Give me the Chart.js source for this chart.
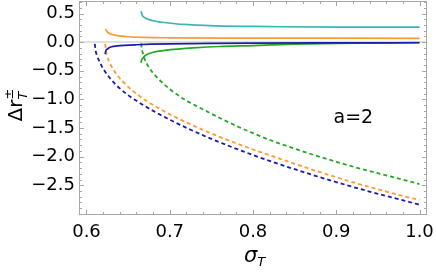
<!DOCTYPE html>
<html>
<head>
<meta charset="utf-8">
<script src="https://cdn.jsdelivr.net/npm/chart.js@4.4.0/dist/chart.umd.min.js"></script>
<style>
  body { margin: 0; background: #fff; }
  #wrap { width: 436px; height: 273px; }
</style>
</head>
<body>
<div id="wrap"><canvas id="chart" width="436" height="273"></canvas></div>
<script>
// solid branches
const cyanSigma = [0.6655, 0.667, 0.670, 0.676, 0.685, 0.696, 0.716, 0.756, 0.80, 0.836, 0.90, 1.0];
const cyanVal   = [0.54, 0.47, 0.43, 0.39, 0.36, 0.34, 0.31, 0.285, 0.275, 0.27, 0.265, 0.262];

const orangeSigma = [0.623, 0.624, 0.626, 0.630, 0.634, 0.640, 0.650, 0.670, 0.700, 0.80, 0.90, 1.0];
const orangeVal   = [0.235, 0.20, 0.165, 0.14, 0.123, 0.11, 0.095, 0.083, 0.077, 0.072, 0.07, 0.068];

const blueSigma = [0.6225, 0.623, 0.625, 0.630, 0.637, 0.646, 0.660, 0.678, 0.70, 0.75, 0.80, 0.90, 1.0];
const blueVal   = [-0.21, -0.16, -0.12, -0.08, -0.065, -0.055, -0.045, -0.035, -0.028, -0.02, -0.016, -0.012, -0.01];

const greenSigma = [0.6655, 0.666, 0.668, 0.672, 0.680, 0.696, 0.710, 0.728, 0.760, 0.80, 0.85, 0.90, 1.0];
const greenVal   = [-0.36, -0.32, -0.27, -0.22, -0.175, -0.14, -0.12, -0.10, -0.075, -0.06, -0.035, -0.02, -0.005];

// dashed branches
const blueDashSigma = [0.610, 0.611, 0.6125, 0.615, 0.618, 0.621, 0.625, 0.630, 0.636, 0.643, 0.650, 0.660, 0.670, 0.685,
                       0.700, 0.725, 0.750, 0.775, 0.800, 0.825, 0.850, 0.875, 0.900, 0.925, 0.950, 0.975, 1.0];
const blueDashVal   = [-0.03, -0.15, -0.23, -0.32, -0.41, -0.485, -0.57, -0.66, -0.755, -0.845, -0.925, -1.025, -1.115, -1.24,
                       -1.355, -1.53, -1.69, -1.835, -1.972, -2.10, -2.22, -2.335, -2.445, -2.55, -2.65, -2.745, -2.84];

const orangeDashSigma = [0.6225, 0.6235, 0.625, 0.627, 0.630, 0.634, 0.638, 0.643, 0.649, 0.656, 0.664, 0.673, 0.685,
                         0.700, 0.725, 0.750, 0.775, 0.800, 0.825, 0.850, 0.875, 0.900, 0.925, 0.950, 0.975, 1.0];
const orangeDashVal   = [-0.03, -0.17, -0.255, -0.335, -0.42, -0.515, -0.595, -0.68, -0.765, -0.855, -0.945, -1.035, -1.14,
                         -1.26, -1.435, -1.595, -1.74, -1.875, -2.0, -2.125, -2.245, -2.36, -2.47, -2.57, -2.668, -2.76];

const greenDashSigma = [0.6655, 0.6665, 0.668, 0.670, 0.6725, 0.676, 0.680, 0.685, 0.692, 0.700, 0.710, 0.720,
                        0.730, 0.740, 0.750, 0.775, 0.800, 0.825, 0.850, 0.875, 0.900, 0.925, 0.950, 0.975, 1.0];
const greenDashVal   = [-0.02, -0.12, -0.21, -0.30, -0.38, -0.46, -0.54, -0.62, -0.72, -0.82, -0.925, -1.02,
                        -1.10, -1.175, -1.25, -1.43, -1.59, -1.735, -1.86, -1.98, -2.09, -2.195, -2.29, -2.385, -2.48];

const xTicks = [0.6, 0.7, 0.8, 0.9, 1.0];
const yTicks = [0.5, 0.0, -0.5, -1.0, -1.5, -2.0, -2.5];
const annotation = "a=2";

const BLUE = "#1c1ca8", ORANGE = "#ff9a33", GREEN = "#26a826", CYAN = "#3ab5b5";

function pts(xs, ys) {
  return xs.map((x, i) => ({ x: x, y: ys[i] }));
}

function line(xs, ys, color, dashed) {
  return {
    data: pts(xs, ys),
    borderColor: color,
    borderWidth: dashed ? 1.8 : 1.7,
    borderDash: dashed ? [4, 3] : [],
    pointRadius: 0,
    cubicInterpolationMode: "monotone",
    fill: false
  };
}

const FONT = "DejaVu Sans";

const decor = {
  id: "decor",
  afterDraw(chart) {
    const ctx = chart.ctx;
    const a = chart.chartArea;
    const x = chart.scales.x, y = chart.scales.y;
    ctx.save();
    ctx.strokeStyle = "#a8a8a8";
    ctx.lineWidth = 1;
    ctx.strokeRect(a.left + 0.5, a.top + 0.5, a.right - a.left - 1, a.bottom - a.top - 1);

    // inward ticks, major + minor
    ctx.beginPath();
    for (let i = 0; i <= 25; i++) {
      const v = 0.58 + i * 0.02;
      const px = Math.round(x.getPixelForValue(v)) + 0.5;
      if (px < a.left + 1 || px > a.right - 1) continue;
      const len = (i % 5 === 1) ? 5 : 3;
      ctx.moveTo(px, a.bottom); ctx.lineTo(px, a.bottom - len);
      ctx.moveTo(px, a.top); ctx.lineTo(px, a.top + len);
    }
    for (let i = 0; i <= 40; i++) {
      const v = 0.8 - i * 0.1;
      const py = Math.round(y.getPixelForValue(v)) + 0.5;
      if (py < a.top + 1 || py > a.bottom - 1) continue;
      const len = (i % 5 === 3) ? 5 : 3;
      ctx.moveTo(a.left, py); ctx.lineTo(a.left + len, py);
      ctx.moveTo(a.right, py); ctx.lineTo(a.right - len, py);
    }
    ctx.stroke();

    // annotation
    ctx.fillStyle = "#000";
    ctx.font = "19px '" + FONT + "'";
    ctx.textAlign = "center";
    ctx.textBaseline = "middle";
    ctx.fillText(annotation, x.getPixelForValue(0.9205), y.getPixelForValue(-1.32));

    // x title: sigma_T
    ctx.textAlign = "left";
    ctx.textBaseline = "alphabetic";
    ctx.font = "italic 21px '" + FONT + "'";
    const sw = ctx.measureText("\u03c3").width;
    const cx = (a.left + a.right) / 2;
    ctx.fillText("\u03c3", cx - 9, 262);
    ctx.font = "italic 13px '" + FONT + "'";
    ctx.fillText("T", cx - 9 + sw, 266);

    // y title: Δr with ± and T
    ctx.translate(22, 106);
    ctx.rotate(-Math.PI / 2);
    ctx.font = "20px '" + FONT + "'";
    const w1 = ctx.measureText("\u0394r").width;
    const x0 = -(w1 + 9) / 2;
    ctx.fillText("\u0394r", x0, 0);
    ctx.font = "13px '" + FONT + "'";
    ctx.fillText("\u00b1", x0 + w1, -9);
    ctx.font = "italic 13px '" + FONT + "'";
    ctx.fillText("T", x0 + w1, 5);
    ctx.restore();
  }
};

new Chart(document.getElementById("chart"), {
  type: "line",
  data: {
    datasets: [
      line(cyanSigma, cyanVal, CYAN, false),
      line(orangeSigma, orangeVal, ORANGE, false),
      line(blueSigma, blueVal, BLUE, false),
      line(greenSigma, greenVal, GREEN, false),
      line(blueDashSigma, blueDashVal, BLUE, true),
      line(orangeDashSigma, orangeDashVal, ORANGE, true),
      line(greenDashSigma, greenDashVal, GREEN, true)
    ]
  },
  options: {
    responsive: false,
    animation: false,
    layout: { padding: { top: 1, right: 9, left: 0, bottom: 0 } },
    plugins: { legend: { display: false }, tooltip: { enabled: false } },
    scales: {
      x: {
        type: "linear",
        min: 0.591,
        max: 1.009,
        afterBuildTicks: s => { s.ticks = xTicks.map(v => ({ value: v })); },
        afterFit: s => { s.height = 58; s.paddingLeft = 0; s.paddingRight = 0; },
        ticks: {
          callback: v => v.toFixed(1),
          font: { family: FONT, size: 18 },
          color: "#000",
          padding: 7,
          maxRotation: 0
        },
        grid: { display: false, drawTicks: false },
        border: { display: false }
      },
      y: {
        type: "linear",
        min: -3.02,
        max: 0.72,
        afterBuildTicks: s => { s.ticks = yTicks.map(v => ({ value: v })); },
        afterFit: s => { s.width = 79; s.paddingTop = 0; s.paddingBottom = 0; },
        ticks: {
          callback: v => v.toFixed(1).replace("-", "\u2212"),
          font: { family: FONT, size: 18 },
          color: "#000",
          padding: 4
        },
        grid: {
          drawTicks: false,
          color: c => (c.tick && c.tick.value === 0) ? "#e0e0e0" : "rgba(0,0,0,0)",
          lineWidth: 2
        },
        border: { display: false }
      }
    }
  },
  plugins: [decor]
});
</script>
</body>
</html>
